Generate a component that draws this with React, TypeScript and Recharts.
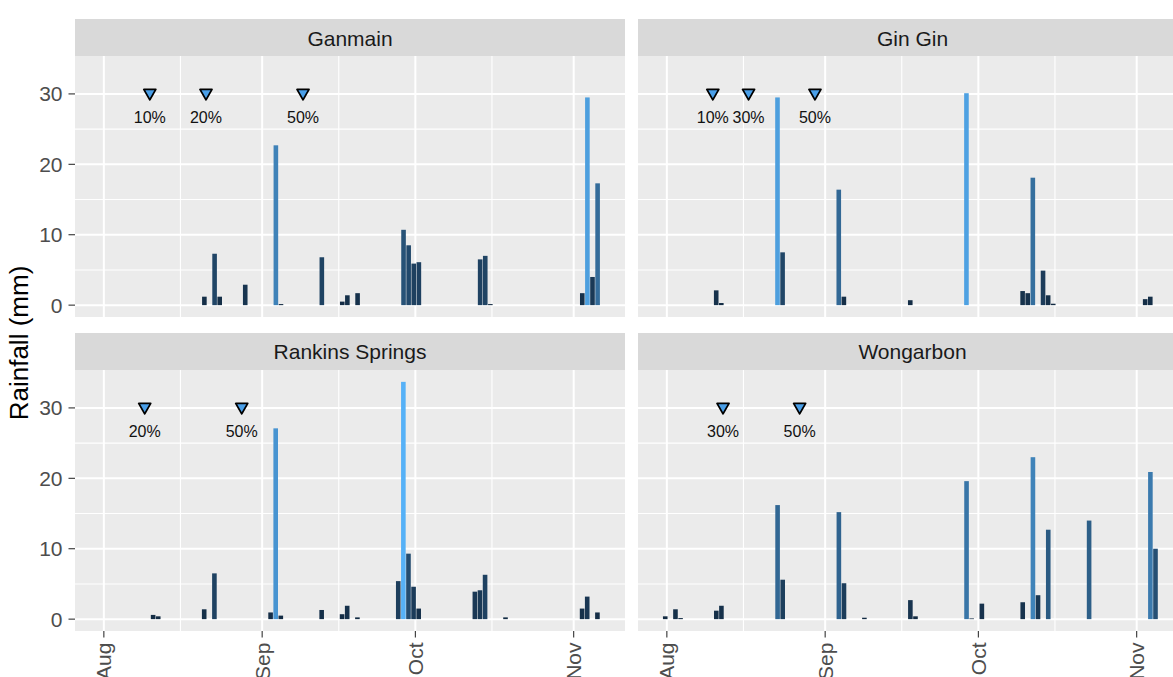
import React from 'react';
import { ComposedChart, Bar, Scatter, XAxis, YAxis, CartesianGrid } from 'recharts';

// daily rainfall per site (mm)
const ganmainDates = ['2019-08-21', '2019-08-23', '2019-08-24', '2019-08-29', '2019-09-04', '2019-09-05', '2019-09-13', '2019-09-17', '2019-09-18', '2019-09-20', '2019-09-29', '2019-09-30', '2019-10-01', '2019-10-02', '2019-10-14', '2019-10-15', '2019-10-16', '2019-11-03', '2019-11-04', '2019-11-05', '2019-11-06'];
const ganmainRain = [1.2, 7.3, 1.2, 2.9, 22.7, 0.15, 6.8, 0.5, 1.4, 1.7, 10.7, 8.5, 5.9, 6.1, 6.5, 7.0, 0.15, 1.7, 29.5, 4.0, 17.3];

const ginginDates = ['2019-08-11', '2019-08-12', '2019-08-23', '2019-08-24', '2019-09-04', '2019-09-05', '2019-09-18', '2019-09-29', '2019-10-10', '2019-10-11', '2019-10-12', '2019-10-14', '2019-10-15', '2019-10-16', '2019-11-03', '2019-11-04'];
const ginginRain = [2.1, 0.3, 29.5, 7.5, 16.4, 1.2, 0.7, 30.1, 2.0, 1.7, 18.1, 4.9, 1.4, 0.2, 0.85, 1.2];

const rankinsDates = ['2019-08-11', '2019-08-12', '2019-08-21', '2019-08-23', '2019-09-03', '2019-09-04', '2019-09-05', '2019-09-13', '2019-09-17', '2019-09-18', '2019-09-20', '2019-09-28', '2019-09-29', '2019-09-30', '2019-10-01', '2019-10-02', '2019-10-13', '2019-10-14', '2019-10-15', '2019-10-19', '2019-11-03', '2019-11-04', '2019-11-06'];
const rankinsRain = [0.6, 0.4, 1.4, 6.5, 0.95, 27.1, 0.5, 1.3, 0.7, 1.9, 0.25, 5.4, 33.7, 9.3, 4.6, 1.5, 3.9, 4.1, 6.3, 0.25, 1.5, 3.2, 0.95];

const wongarbonDates = ['2019-08-01', '2019-08-03', '2019-08-04', '2019-08-11', '2019-08-12', '2019-08-23', '2019-08-24', '2019-09-04', '2019-09-05', '2019-09-09', '2019-09-18', '2019-09-19', '2019-09-29', '2019-09-30', '2019-10-02', '2019-10-10', '2019-10-12', '2019-10-13', '2019-10-15', '2019-10-23', '2019-11-04', '2019-11-05'];
const wongarbonRain = [0.4, 1.4, 0.15, 1.2, 1.9, 16.2, 5.6, 15.2, 5.1, 0.2, 2.7, 0.4, 19.6, 0.1, 2.2, 2.4, 23.0, 3.4, 12.7, 14.0, 20.9, 10.0];

// flowering stage markers
const ganmainStageDates = ['2019-08-10', '2019-08-21', '2019-09-09'];
const ganmainStageLabels = ['10%', '20%', '50%'];
const ginginStageDates = ['2019-08-10', '2019-08-17', '2019-08-30'];
const ginginStageLabels = ['10%', '30%', '50%'];
const rankinsStageDates = ['2019-08-09', '2019-08-28'];
const rankinsStageLabels = ['20%', '50%'];
const wongarbonStageDates = ['2019-08-12', '2019-08-27'];
const wongarbonStageLabels = ['30%', '50%'];
const STAGE_Y = 30;

const monthTicks = ['2019-08-01', '2019-09-01', '2019-10-01', '2019-11-01'];
const monthLabels = ['Aug', 'Sep', 'Oct', 'Nov'];
const monthMinor = ['2019-08-16', '2019-09-16', '2019-10-16'];
const rainTicks = [0, 10, 20, 30];
const rainMinor = [5, 15, 25];

const START = Date.parse('2019-08-01');
const day = (iso: string) => (Date.parse(iso) - START) / 86400000;
const RAIN_SHIFT = -0.3; // rain timestamps sit a little before the date break

const X_DOMAIN = [-5.65, 102.05];
const Y_DOMAIN = [-1.685, 35.385];

const PANEL_W = 550;
const PANEL_H = 261;
const Y_AXIS_W = 75;
const X_AXIS_H = 46;
const STRIP_H = 37;
const PX_PER_DAY = PANEL_W / (X_DOMAIN[1] - X_DOMAIN[0]);
const BAR_W = 0.9 * PX_PER_DAY;
const FONT = '"Liberation Sans", Arial, sans-serif';

const allRain = [...ganmainRain, ...ginginRain, ...rankinsRain, ...wongarbonRain];
const rainMin = Math.min(...allRain);
const rainMax = Math.max(...allRain);

// ggplot-like gradient #132B43 -> #56B1F7 interpolated in Lab
const toLin = (c: number) => (c <= 0.04045 ? c / 12.92 : Math.pow((c + 0.055) / 1.055, 2.4));
const fromLin = (c: number) => (c <= 0.0031308 ? 12.92 * c : 1.055 * Math.pow(c, 1 / 2.4) - 0.055);
const f = (t: number) => (t > 0.008856 ? Math.cbrt(t) : 7.787 * t + 16 / 116);
const fi = (t: number) => (t * t * t > 0.008856 ? t * t * t : (t - 16 / 116) / 7.787);
function toLab(hex: string) {
  const [r, g, b] = [1, 3, 5].map((i) => toLin(parseInt(hex.slice(i, i + 2), 16) / 255));
  const X = (0.4124 * r + 0.3576 * g + 0.1805 * b) / 0.95047;
  const Y = 0.2126 * r + 0.7152 * g + 0.0722 * b;
  const Z = (0.0193 * r + 0.1192 * g + 0.9505 * b) / 1.08883;
  return [116 * f(Y) - 16, 500 * (f(X) - f(Y)), 200 * (f(Y) - f(Z))];
}
function fromLab([L, a, bb]: number[]) {
  const fy = (L + 16) / 116;
  const X = 0.95047 * fi(fy + a / 500);
  const Y = fi(fy);
  const Z = 1.08883 * fi(fy - bb / 200);
  const rgb = [
    3.2406 * X - 1.5372 * Y - 0.4986 * Z,
    -0.9689 * X + 1.8758 * Y + 0.0415 * Z,
    0.0557 * X - 0.204 * Y + 1.057 * Z,
  ];
  return '#' + rgb.map((c) => Math.round(Math.min(1, Math.max(0, fromLin(c))) * 255).toString(16).padStart(2, '0')).join('');
}
const LOW = toLab('#132B43');
const HIGH = toLab('#56B1F7');
const rainColor = (v: number) => {
  const t = (v - rainMin) / (rainMax - rainMin);
  return fromLab(LOW.map((l, i) => l + (HIGH[i] - l) * t));
};

const rainRows = (dates: string[], rain: number[]) => dates.map((d, i) => ({ x: day(d) + RAIN_SHIFT, rain: rain[i] }));
const stageRows = (dates: string[], labels: string[]) => dates.map((d, i) => ({ x: day(d), y: STAGE_Y, label: labels[i] }));

const RainBar = (p: any) => {
  const x = Number(p.x);
  const y = Number(p.y);
  const h = Number(p.height);
  const w = Number.isFinite(Number(p.width)) ? Number(p.width) : 0;
  if (!Number.isFinite(x) || !Number.isFinite(y) || !Number.isFinite(h)) return <g />;
  const cx = x + w / 2;
  return <rect x={cx - BAR_W / 2} y={y} width={BAR_W} height={h} fill={rainColor(p.payload.rain)} />;
};

const StageMarker = (p: any) => {
  const { cx, cy } = p;
  return (
    <g>
      <polygon
        points={`${cx - 6},${cy - 4.5} ${cx + 6},${cy - 4.5} ${cx},${cy + 6}`}
        fill="#4A9FE8"
        stroke="#000"
        strokeWidth={1.8}
        strokeLinejoin="round"
      />
      <text x={cx} y={cy + 23} dy="0.35em" textAnchor="middle" fontSize={16} fill="#111" fontFamily={FONT}>
        {p.payload.label}
      </text>
    </g>
  );
};

const MonthTick = (p: any) => {
  const i = monthTicks.findIndex((m) => Math.abs(day(m) - p.payload.value) < 0.01);
  return (
    <text x={p.x} y={p.y} transform={`rotate(-90 ${p.x} ${p.y})`} textAnchor="end" dy="0.36em" fontSize={21} fill="#4D4D4D" fontFamily={FONT}>
      {monthLabels[i]}
    </text>
  );
};

type FacetProps = {
  title: string;
  rows: { x: number; rain: number }[];
  stages: { x: number; y: number; label: string }[];
  left: number;
  top: number;
  showY: boolean;
  showX: boolean;
};

function Facet({ title, rows, stages, left, top, showY, showX }: FacetProps) {
  const w = showY ? PANEL_W + Y_AXIS_W : PANEL_W;
  const h = showX ? PANEL_H + X_AXIS_H : PANEL_H;
  return (
    <>
      <div
        style={{
          position: 'absolute',
          left,
          top: top - STRIP_H,
          width: PANEL_W,
          height: STRIP_H,
          background: '#D9D9D9',
          color: '#1A1A1A',
          fontSize: 21,
          fontFamily: FONT,
          display: 'flex',
          alignItems: 'center',
          justifyContent: 'center',
          paddingTop: 2,
          boxSizing: 'border-box',
        }}
      >
        {title}
      </div>
      <div style={{ position: 'absolute', left: showY ? left - Y_AXIS_W : left, top }}>
        <ComposedChart width={w} height={h} data={rows} margin={{ top: 0, right: 0, bottom: 0, left: 0 }}>
          <CartesianGrid
            fill="#EBEBEB"
            stroke="#FFFFFF"
            strokeWidth={1.1}
            horizontalValues={rainMinor}
            verticalValues={monthMinor.map(day)}
          />
          <CartesianGrid
            stroke="#FFFFFF"
            strokeWidth={2}
            horizontalValues={rainTicks}
            verticalValues={monthTicks.map(day)}
          />
          <XAxis
            type="number"
            dataKey="x"
            domain={X_DOMAIN}
            allowDataOverflow
            ticks={monthTicks.map(day)}
            hide={!showX}
            height={X_AXIS_H}
            axisLine={false}
            tickLine={{ stroke: '#333333', strokeWidth: 1.1 }}
            tickSize={6.5}
            tickMargin={5}
            tick={<MonthTick />}
            interval={0}
          />
          <YAxis
            type="number"
            domain={Y_DOMAIN}
            allowDataOverflow
            ticks={rainTicks}
            hide={!showY}
            width={Y_AXIS_W}
            axisLine={false}
            tickLine={{ stroke: '#333333', strokeWidth: 1.1 }}
            tickSize={6.5}
            tickMargin={6}
            tick={{ fill: '#4D4D4D', fontSize: 21, fontFamily: FONT }}
            interval={0}
          />
          <Bar dataKey="rain" barSize={BAR_W} isAnimationActive={false} shape={RainBar} />
          <Scatter data={stages} dataKey="y" isAnimationActive={false} shape={StageMarker} />
        </ComposedChart>
      </div>
    </>
  );
}

export default function App() {
  const colX = [Y_AXIS_W, Y_AXIS_W + PANEL_W + 12.5];
  const rowY = [56, 369.5];
  return (
    <div
      style={{
        position: 'absolute',
        left: 0,
        top: 0,
        width: 1173,
        height: 677,
        overflow: 'hidden',
        background: '#FFFFFF',
        fontFamily: FONT,
      }}
    >
      <Facet title="Ganmain" rows={rainRows(ganmainDates, ganmainRain)} stages={stageRows(ganmainStageDates, ganmainStageLabels)} left={colX[0]} top={rowY[0]} showY showX={false} />
      <Facet title="Gin Gin" rows={rainRows(ginginDates, ginginRain)} stages={stageRows(ginginStageDates, ginginStageLabels)} left={colX[1]} top={rowY[0]} showY={false} showX={false} />
      <Facet title="Rankins Springs" rows={rainRows(rankinsDates, rankinsRain)} stages={stageRows(rankinsStageDates, rankinsStageLabels)} left={colX[0]} top={rowY[1]} showY showX />
      <Facet title="Wongarbon" rows={rainRows(wongarbonDates, wongarbonRain)} stages={stageRows(wongarbonStageDates, wongarbonStageLabels)} left={colX[1]} top={rowY[1]} showY={false} showX />
      <svg style={{ position: 'absolute', left: 0, top: 0 }} width={40} height={677}>
        <text x={19} y={343} transform="rotate(-90 19 343)" textAnchor="middle" dy="0.35em" fontSize={26} fill="#000" fontFamily={FONT}>
          Rainfall (mm)
        </text>
      </svg>
    </div>
  );
}
